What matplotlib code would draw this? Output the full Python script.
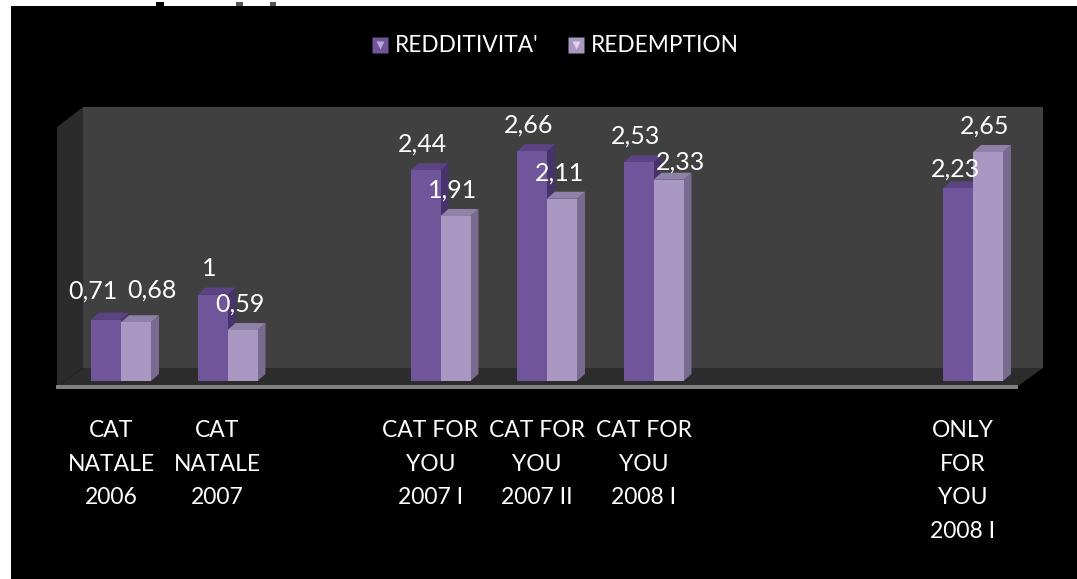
import numpy as np
import matplotlib
matplotlib.use('Agg')
import matplotlib.pyplot as plt
from matplotlib.lines import Line2D
from matplotlib.legend_handler import HandlerTuple
from matplotlib.patches import Polygon, Rectangle
from matplotlib.transforms import ScaledTranslation

# date style axis, so the empty slots stay in
categories = ['CAT\nNATALE\n2006', 'CAT\nNATALE\n2007', '', 'CAT FOR\nYOU\n2007 I',
              'CAT FOR\nYOU\n2007 II', 'CAT FOR\nYOU\n2008 I', '', '', 'ONLY\nFOR\nYOU\n2008 I']
redditivita = [0.71, 1, np.nan, 2.44, 2.66, 2.53, np.nan, np.nan, 2.23]
redemption = [0.68, 0.59, np.nan, 1.91, 2.11, 2.33, np.nan, np.nan, 2.65]
labels_a = ['0,71', '1', '', '2,44', '2,66', '2,53', '', '', '2,23']
labels_b = ['0,68', '0,59', '', '1,91', '2,11', '2,33', '', '', '2,65']

W, H = 1077, 579
SLOT = 106.5   # px per category
UNIT = 86.4    # px per value unit
BASE = 381     # y pixel of value 0
X0 = 121       # x pixel of first category

plt.rcParams['font.family'] = ['Lato', 'DejaVu Sans']

fig = plt.figure(figsize=(W / 100, H / 100), dpi=100, facecolor='black')
left = X0 - SLOT / 2
top = 107
ax = fig.add_axes([left / W, 1 - BASE / H, SLOT * len(categories) / W, (BASE - top) / H])
ax.set_xlim(-0.5, len(categories) - 0.5)
ax.set_ylim(0, (BASE - top) / UNIT)
ax.patch.set_visible(False)
for s in ax.spines.values():
    s.set_visible(False)


def pts(*pairs):
    # pixel pairs to data coords
    return [((x - X0) / SLOT, (BASE - y) / UNIT) for x, y in pairs]


def face(xy, color, z):
    ax.add_patch(Polygon(xy, closed=True, facecolor=color, edgecolor='none', clip_on=False, zorder=z))


# box walls
face(pts((83, 107), (1043, 107), (1043, 368), (83, 368)), '#404040', 1)
face(pts((57, 127), (83, 107), (83, 368), (57, 386)), '#2b2b2b', 1)
face(pts((57, 386), (83, 368), (1043, 368), (1018, 386)), '#2c2c2c', 1)
face(pts((56, 385), (1018, 385), (1018, 389), (56, 389)), '#7f7f7f', 2)

x = np.arange(len(categories))
bw = 30 / SLOT
bars_a = ax.bar(x - bw / 2, redditivita, bw, color='#70559a', zorder=5, clip_on=False)
bars_b = ax.bar(x + bw / 2, redemption, bw, color='#a898c2', zorder=7, clip_on=False)

# fake 3d faces
dx = 8 / SLOT
dy = 7 / UNIT
for bars, side, cap, z in [(bars_a, '#46336b', '#5b4384', 4), (bars_b, '#786b90', '#8f82a8', 6)]:
    for r in bars:
        h = r.get_height()
        if np.isnan(h):
            continue
        x0, x1 = r.get_x(), r.get_x() + r.get_width()
        face([(x1, 0), (x1 + dx, dy), (x1 + dx, h + dy), (x1, h)], side, z)
        face([(x0, h), (x0 + dx, h + dy), (x1 + dx, h + dy), (x1, h)], cap, z)

# value labels sit by hand in the original, so nudge a few
offset_a = {0: (-13, 29)}
offset_b = {0: (16, 32), 5: (12, 18)}
for i, (va, vb) in enumerate(zip(redditivita, redemption)):
    if np.isnan(va):
        continue
    ox, oy = offset_a.get(i, (-3, 26))
    if i == 8:
        oy = 19
    ax.annotate(labels_a[i], (x[i] - bw / 2, va), xytext=(ox * 0.72, oy * 0.72), textcoords='offset points',
                ha='center', va='center', color='white', fontsize=18, zorder=10, annotation_clip=False)
    ox, oy = offset_b.get(i, (-3, 26))
    ax.annotate(labels_b[i], (x[i] + bw / 2, vb), xytext=(ox * 0.72, oy * 0.72), textcoords='offset points',
                ha='center', va='center', color='white', fontsize=18, zorder=10, annotation_clip=False)

ax.set_yticks([])
ax.set_xticks(x[[bool(c) for c in categories]])
ax.set_xticklabels([c for c in categories if c], color='white', fontsize=16.5, linespacing=1.75)
ax.tick_params(axis='x', length=0, pad=28)
# category text sits left of the bars in the original
shift = ScaledTranslation(-10 / 100, 0, fig.dpi_scale_trans)
for t in ax.get_xticklabels():
    t.set_transform(t.get_transform() + shift)

# legend swatches with the little light wedge
handles = []
for c, c2 in [('#70559a', '#b9a6dc'), ('#a898c2', '#ddd3ee')]:
    handles.append((Line2D([], [], marker='s', color='none', markerfacecolor=c, markeredgecolor='none', markersize=11),
                    Line2D([], [], marker='v', color='none', markerfacecolor=c2, markeredgecolor='none', markersize=6)))
fig.legend(handles, ["REDDITIVITA'", 'REDEMPTION'], ncol=2, loc='center', bbox_to_anchor=(555 / W, 1 - 46 / H),
           frameon=False, labelcolor='white', fontsize=16.3, handlelength=0.8, handletextpad=0.25, columnspacing=1.25,
           handler_map={tuple: HandlerTuple(ndivide=1, pad=0)})

# white edges of the crop, and the cut off bits above it
fig.patches.append(Rectangle((0, 1 - 6 / H), 1, 6 / H, transform=fig.transFigure, facecolor='white', edgecolor='none', zorder=20))
fig.patches.append(Rectangle((0, 0), 11 / W, 1, transform=fig.transFigure, facecolor='white', edgecolor='none', zorder=20))
for a, b, c in [(156, 164, 'black'), (236, 243, '#555555'), (270, 276, '#555555')]:
    fig.patches.append(Rectangle((a / W, 1 - 6 / H), (b - a) / W, 4 / H, transform=fig.transFigure, facecolor=c, edgecolor='none', zorder=21))

fig.savefig('out.png', dpi=100, facecolor='black')
